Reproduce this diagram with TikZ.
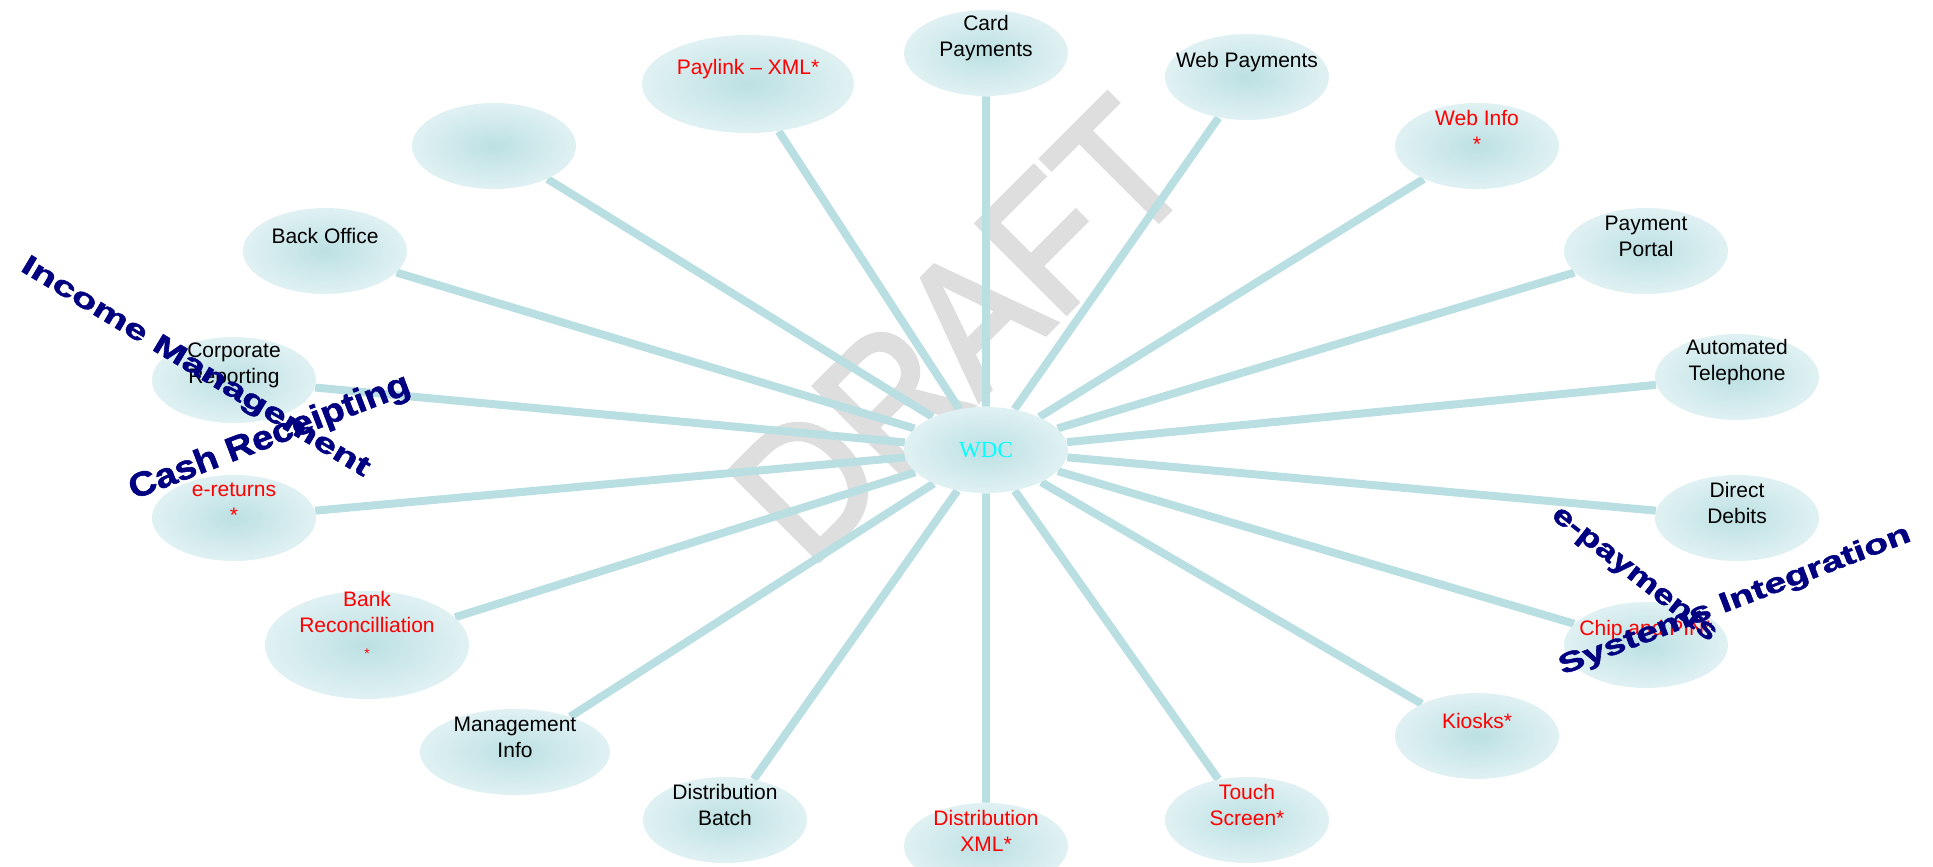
\documentclass[tikz,border=0pt]{standalone}
\usepackage{fontspec}
\usepackage{graphicx}
\setmainfont{Liberation Sans}
\newfontfamily\wdcfont{Liberation Serif}
\newfontfamily\bannerfont[FakeBold=1.5]{Liberation Sans}
\newfontfamily\draftfont[FakeBold=2.5]{Liberation Sans}
\usetikzlibrary{shapes.geometric,backgrounds}
\definecolor{bubblein}{HTML}{BCE0E3}
\definecolor{bubbleout}{HTML}{E0F1F3}
\definecolor{spokeblue}{HTML}{B9DFE3}
\definecolor{bannerblue}{HTML}{000080}
\definecolor{draftgrey}{HTML}{DEDEDE}
\definecolor{wdccyan}{RGB}{0,255,255}
\tikzstyle{bubble}=[ellipse, inner sep=0pt, inner color=bubblein, outer color=bubbleout, minimum width=82pt, minimum height=43pt]
\tikzstyle{say}=[align=center, font=\fontsize{10.5}{13}\selectfont, yshift=7.5pt]
\tikzstyle{redsay}=[say, text=red]
\tikzstyle{spoke}=[line width=4pt, draw=spokeblue]
\tikzstyle{banner}=[text=bannerblue, inner sep=0pt, font=\bannerfont\bfseries\fontsize{14}{14}\selectfont]
\tikzstyle{draft}=[text=draftgrey, inner sep=0pt, font=\draftfont\fontsize{92}{92}\selectfont]

\begin{document}
\begin{tikzpicture}[x=0.5pt, y=-0.5pt]
                \useasboundingbox (0,0) rectangle (1933,867);
                \node[bubble, text=wdccyan, font=\wdcfont\fontsize{11.5}{12}\selectfont] (wdc) at (986,450) {WDC};
                \node[bubble, label={[say]center:{Card\\Payments}}] (card) at (986,53) {};
                \node[bubble, label={[say]center:{Web Payments}}] (webpay) at (1247,77) {};
                \node[bubble, label={[redsay]center:{Web Info\\*}}] (webinfo) at (1477,146) {};
                \node[bubble, label={[say]center:{Payment\\Portal}}] (portal) at (1646,251) {};
                \node[bubble, label={[say]center:{Automated\\Telephone}}] (phone) at (1737,377) {};
                \node[bubble, label={[say]center:{Direct\\Debits}}] (debits) at (1737,518) {};
                \node[bubble, label={[redsay]center:{Chip and PIN*}}] (chip) at (1646,645) {};
                \node[bubble, label={[redsay]center:{Kiosks*}}] (kiosks) at (1477,736) {};
                \node[bubble, label={[redsay]center:{Touch\\Screen*}}] (touch) at (1247,820) {};
                \node[bubble, label={[redsay]center:{Distribution\\XML*}}] (distxml) at (986,846) {};
                \node[bubble, label={[say]center:{Distribution\\Batch}}] (batch) at (725,820) {};
                \node[bubble, minimum width=95pt, label={[say]center:{Management\\Info}}] (mgmt) at (515,752) {};
                \node[bubble, minimum width=102pt, minimum height=54pt, label={[redsay, yshift=2.5pt]center:{Bank\\Reconcilliation\\{\scriptsize *}}}] (bank) at (367,645) {};
                \node[bubble, label={[redsay]center:{e-returns\\*}}] (ereturns) at (234,518) {};
                \node[bubble, label={[say]center:{Corporate\\Reporting}}] (corporate) at (234,380) {};
                \node[bubble, label={[say]center:{Back Office}}] (backoffice) at (325,251) {};
                \node[bubble] (blank) at (494,146) {};
                \node[bubble, minimum width=106pt, minimum height=49pt, label={[redsay]center:{Paylink – XML*}}] (paylink) at (748,84) {};
                \begin{scope}[on background layer]
                \node[draft, rotate=45] (watermark) at (960,330) {\scalebox{0.9}[1]{DRAFT}};
                \draw[spoke] (wdc)--(card) (wdc)--(webpay) (wdc)--(webinfo) (wdc)--(portal) (wdc)--(phone);
                \draw[spoke] (wdc)--(debits) (wdc)--(chip) (wdc)--(kiosks) (wdc)--(touch) (wdc)--(distxml);
                \draw[spoke] (wdc)--(batch) (wdc)--(mgmt) (wdc)--(bank) (wdc)--(ereturns) (wdc)--(corporate);
                \draw[spoke] (wdc)--(backoffice) (wdc)--(blank) (wdc)--(paylink);
                \end{scope}
                \node[banner, rotate=-31] (income) at (195,368) {\scalebox{1.45}[1]{Income Management}};
                \node[banner, rotate=21, font=\bannerfont\bfseries\fontsize{17}{17}\selectfont] (cash) at (270,438) {\scalebox{1.12}[1]{Cash Receipting}};
                \node[banner, rotate=-38] (epay) at (1634,575) {\scalebox{1.3}[1]{e-payments}};
                \node[banner, rotate=21] (sysint) at (1735,601) {\scalebox{1.4}[1]{Systems Integration}};
            \end{tikzpicture}
\end{document}
